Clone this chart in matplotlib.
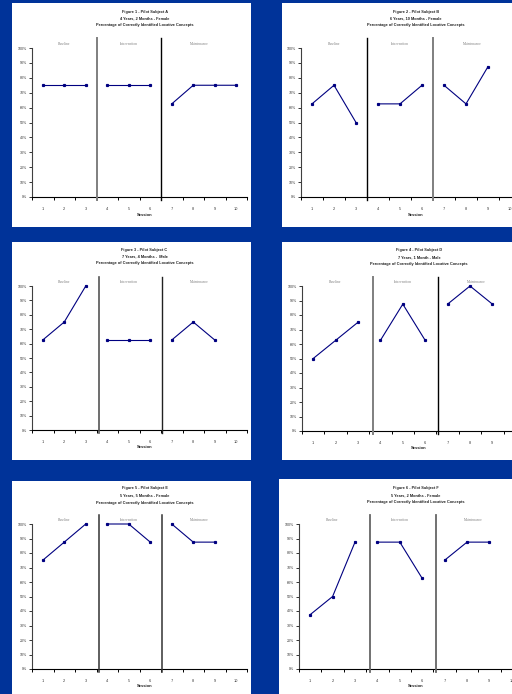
import matplotlib
matplotlib.use("Agg")
import matplotlib.pyplot as plt
from matplotlib.patches import Rectangle
from matplotlib.ticker import FixedLocator, NullFormatter

plt.rcParams['font.family'] = ['Liberation Sans', 'DejaVu Sans']

W, H = 512, 694

# Session scores (percent correct), one list per pilot subject and phase
sessions = list(range(1, 11))
phases = ["Baseline", "Intervention", "Maintenance"]

subject_a = {"Baseline": [75, 75, 75], "Intervention": [75, 75, 75], "Maintenance": [62.5, 75, 75, 75]}
subject_b = {"Baseline": [62.5, 75, 50], "Intervention": [62.5, 62.5, 75], "Maintenance": [75, 62.5, 87.5]}
subject_c = {"Baseline": [62.5, 75, 100], "Intervention": [62.5, 62.5, 62.5], "Maintenance": [62.5, 75, 62.5]}
subject_d = {"Baseline": [50, 62.5, 75], "Intervention": [62.5, 87.5, 62.5], "Maintenance": [87.5, 100, 87.5]}
subject_e = {"Baseline": [75, 87.5, 100], "Intervention": [100, 100, 87.5], "Maintenance": [100, 87.5, 87.5]}
subject_f = {"Baseline": [37.5, 50, 87.5], "Intervention": [87.5, 87.5, 62.5], "Maintenance": [75, 87.5, 87.5]}

titles = [
    ("Figure 1 - Pilot Subject A", "4 Years, 2 Months - Female"),
    ("Figure 2 - Pilot Subject B", "6 Years, 10 Months - Female"),
    ("Figure 3 - Pilot Subject C", "7 Years, 4 Months -  Male"),
    ("Figure 4 - Pilot Subject D", "7 Years, 1 Month - Male"),
    ("Figure 5 - Pilot Subject E", "5 Years, 5 Months - Female"),
    ("Figure 6 - Pilot Subject F", "5 Years, 2 Months - Female"),
]
subtitle = "Percentage of Correctly Identified Locative Concepts"
subjects = [subject_a, subject_b, subject_c, subject_d, subject_e, subject_f]
phase_starts = {"Baseline": 1, "Intervention": 4, "Maintenance": 7}

# Layout of each panel in pixels: white card, plot box, phase divider positions/colours, text rows
panels = [
    dict(card=(12, 3, 251, 227), box=(32, 48, 247, 197), div=[(3.5, "#7f7f7f", 1.4), (6.5, "#000000", 1.0)],
         rows=(12, 18, 25), lab=44, sess=215),
    dict(card=(282, 3, 512, 227), box=(301, 48, 521, 197), div=[(3.5, "#000000", 1.0), (6.5, "#7f7f7f", 1.4)],
         rows=(12, 18, 25), lab=44, sess=215),
    dict(card=(12, 242, 251, 460), box=(32, 286, 247, 430), div=[(3.62, "#555555", 1.2), (6.56, "#222222", 1.0)],
         rows=(250, 256, 263), lab=282, sess=447),
    dict(card=(282, 242, 512, 460), box=(302, 286, 526, 431), div=[(3.67, "#7f7f7f", 1.4), (6.57, "#000000", 1.0)],
         rows=(250, 257, 264), lab=282, sess=448),
    dict(card=(12, 481, 251, 694), box=(32, 524, 247, 669), div=[(3.62, "#333333", 1.1), (6.56, "#333333", 1.1)],
         rows=(488, 495, 503), lab=520, sess=686),
    dict(card=(279, 479, 512, 694), box=(299, 524, 523, 669), div=[(3.67, "#666666", 1.3), (6.6, "#666666", 1.3)],
         rows=(488, 495, 502), lab=520, sess=686),
]

fig = plt.figure(figsize=(W / 100, H / 100), dpi=100)
fig.patch.set_facecolor("#003399")


def fx(x):
    return x / W


def fy(y):
    return 1 - y / H


line_color = "#000080"

for spec, data, (t1, t2) in zip(panels, subjects, titles):
    x0, y0, x1, y1 = spec["card"]
    fig.patches.append(Rectangle((fx(x0), fy(y1)), fx(x1) - fx(x0), fy(y0) - fy(y1),
                                 transform=fig.transFigure, facecolor="white", edgecolor="none", zorder=-10))
    bx0, by0, bx1, by1 = spec["box"]
    ax = fig.add_axes([fx(bx0), fy(by1), fx(bx1) - fx(bx0), fy(by0) - fy(by1)])
    ax.set_zorder(2)
    ax.set_facecolor("none")
    ax.set_xlim(0.5, 10.5)
    ax.set_ylim(0, 100)
    for s in ("top", "right"):
        ax.spines[s].set_visible(False)
    ax.spines["left"].set_color("#404040")
    ax.spines["bottom"].set_color("#000000")
    ax.spines["left"].set_linewidth(0.8)
    ax.spines["bottom"].set_linewidth(0.8)

    ax.set_yticks(range(0, 101, 10))
    ax.set_yticklabels([f"{v}%" for v in range(0, 101, 10)])
    ax.set_xticks(sessions)
    ax.set_xticklabels([str(s) for s in sessions])
    ax.xaxis.set_minor_locator(FixedLocator([i + 0.5 for i in range(0, 11)]))
    ax.xaxis.set_minor_formatter(NullFormatter())
    ax.tick_params(axis="x", which="major", length=0, labelsize=2.8, pad=7, colors="#333333")
    ax.tick_params(axis="x", which="minor", length=2, width=0.7, direction="out", color="black")
    ax.tick_params(axis="y", which="major", length=2, width=0.7, direction="out", labelsize=2.6,
                   pad=1.5, colors="#333333")

    for xd, col, lw in spec["div"]:
        ax.plot([xd, xd], [-2, 106.5], color=col, lw=lw, clip_on=False, zorder=3)

    for ph in phases:
        vals = data[ph]
        xs = [phase_starts[ph] + i for i in range(len(vals))]
        ax.plot(xs, vals, color=line_color, lw=0.8, marker="s", markersize=1.3,
                markerfacecolor=line_color, markeredgecolor=line_color, clip_on=False, zorder=4)

    lab_y = (by1 - spec["lab"]) / (by1 - by0) * 100
    for ph, xc in zip(phases, (2, 5, 8.3)):
        ax.text(xc, lab_y, ph, ha="center", va="center", fontsize=2.6, color="#808080",
                family=["Liberation Serif", "DejaVu Serif"])

    cx = fx((bx0 + bx1) / 2 + 5)
    r1, r2, r3 = spec["rows"]
    fig.text(cx, fy(r1), t1, ha="center", va="center", fontsize=2.8, weight="bold", color="#222222")
    fig.text(cx, fy(r2), t2, ha="center", va="center", fontsize=2.8, weight="bold", color="#222222")
    fig.text(cx, fy(r3), subtitle, ha="center", va="center", fontsize=2.8, weight="bold", color="#222222")
    fig.text(cx, fy(spec["sess"]), "Session", ha="center", va="center", fontsize=3.0, weight="bold",
             color="#222222")

fig.savefig("out.png", dpi=100, facecolor=fig.get_facecolor())
